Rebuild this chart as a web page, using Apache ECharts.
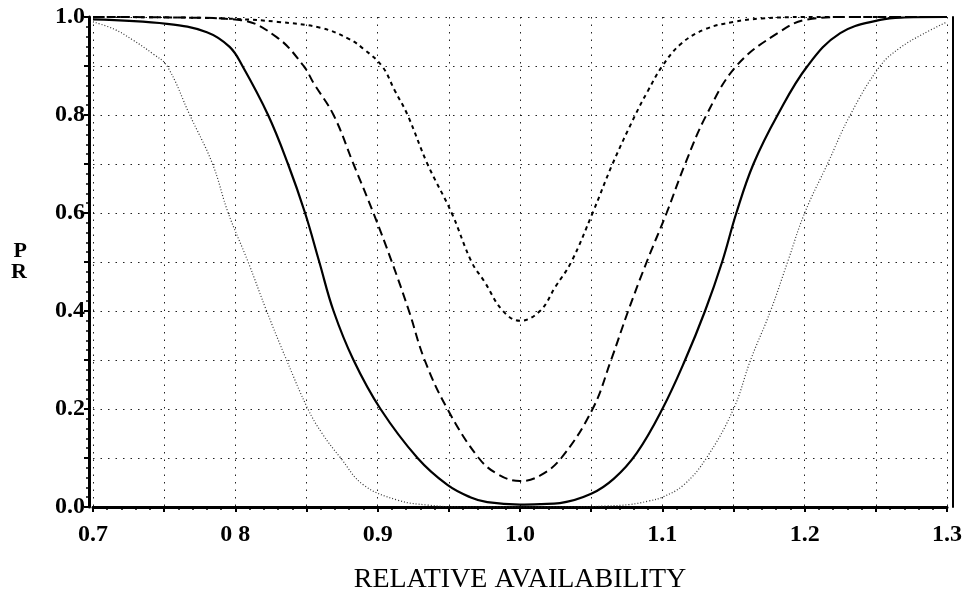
<!DOCTYPE html>
<html>
<head>
<meta charset="utf-8">
<script src="https://cdn.jsdelivr.net/npm/echarts@6/dist/echarts.min.js"></script>
<style>
    html, body { margin: 0; background: #fff; }
    #chart { width: 969px; height: 595px; }
</style>
</head>
<body>
<div id="chart"></div>
<script>
// 刻度标签
var xTickValues = [0.7, 0.8, 0.9, 1.0, 1.1, 1.2, 1.3];
var xTickLabels = ['0.7', '0 8', '0.9', '1.0', '1.1', '1.2', '1.3'];
var yTickValues = [0, 0.2, 0.4, 0.6, 0.8, 1.0];
var yTickLabels = ['0.0', '0.2', '0.4', '0.6', '0.8', '1.0'];

// 四条曲线 [相对可用度, PR]
var dottedCurve = [
    [0.70, 0.99], [0.715, 0.975], [0.728, 0.953], [0.742, 0.925], [0.752, 0.9], [0.768, 0.8],
    [0.784, 0.7], [0.795, 0.6], [0.809, 0.5], [0.822, 0.4], [0.836, 0.3], [0.851, 0.2],
    [0.861, 0.15], [0.874, 0.1], [0.89, 0.045], [0.914, 0.014], [0.935, 0.004], [0.96, 0.0],
    [1.04, 0.0], [1.06, 0.002], [1.077, 0.005], [1.09, 0.012], [1.10, 0.02], [1.115, 0.045],
    [1.131, 0.1], [1.15, 0.2], [1.162, 0.3], [1.176, 0.4], [1.188, 0.5], [1.20, 0.6],
    [1.216, 0.7], [1.232, 0.8], [1.253, 0.9], [1.267, 0.937], [1.283, 0.965], [1.30, 0.99]
];
var solidCurve = [
    [0.70, 0.995], [0.752, 0.986], [0.78, 0.969], [0.796, 0.939], [0.805, 0.9], [0.823, 0.8],
    [0.837, 0.7], [0.849, 0.6], [0.859, 0.5], [0.869, 0.4], [0.883, 0.3], [0.902, 0.2],
    [0.928, 0.1], [0.949, 0.045], [0.965, 0.02], [0.977, 0.01], [1.0, 0.005], [1.015, 0.006],
    [1.028, 0.008], [1.05, 0.027], [1.066, 0.058], [1.082, 0.11], [1.10, 0.2], [1.116, 0.3],
    [1.13, 0.4], [1.142, 0.5], [1.152, 0.6], [1.164, 0.7], [1.181, 0.8], [1.202, 0.9],
    [1.225, 0.967], [1.253, 0.994], [1.27, 0.999], [1.30, 1.0]
];
var longDashCurve = [
    [0.70, 1.0], [0.76, 0.999], [0.803, 0.994], [0.829, 0.959], [0.848, 0.9], [0.855, 0.865],
    [0.869, 0.8], [0.883, 0.7], [0.897, 0.6], [0.910, 0.5], [0.922, 0.4], [0.933, 0.3],
    [0.949, 0.2], [0.971, 0.1], [0.985, 0.066], [1.0, 0.053], [1.014, 0.064], [1.029, 0.1],
    [1.051, 0.2], [1.064, 0.3], [1.076, 0.4], [1.089, 0.5], [1.103, 0.6], [1.116, 0.7],
    [1.131, 0.8], [1.152, 0.9], [1.181, 0.967], [1.202, 0.995], [1.23, 1.0], [1.30, 1.0]
];
var shortDashCurve = [
    [0.70, 1.0], [0.76, 0.999], [0.80, 0.996], [0.83, 0.99], [0.86, 0.978], [0.88, 0.955],
    [0.89, 0.935], [0.903, 0.9], [0.912, 0.85], [0.921, 0.8], [0.935, 0.7], [0.952, 0.6],
    [0.966, 0.5], [0.975, 0.46], [0.988, 0.4], [1.0, 0.38], [1.014, 0.4], [1.025, 0.45],
    [1.036, 0.5], [1.051, 0.6], [1.065, 0.7], [1.081, 0.8], [1.09, 0.85], [1.10, 0.9],
    [1.113, 0.945], [1.13, 0.975], [1.15, 0.99], [1.17, 0.997], [1.20, 1.0], [1.30, 1.0]
];

(function () {
    var myChart = echarts.init(document.getElementById('chart'));

    function pick(values, labels, v) {
        for (var i = 0; i < values.length; i++) {
            if (Math.abs(values[i] - v) < 1e-6) return labels[i];
        }
        return '';
    }

    var labelFont = {
        color: '#000',
        fontFamily: 'Liberation Serif',
        fontWeight: 'bold',
        fontSize: 24
    };
    // 点状网格线
    var gridLine = {
        show: true,
        lineStyle: { color: '#222', width: 1, type: [1.5, 6] }
    };
    // 曲线通用设置
    function curve(name, data, lineStyle) {
        return {
            name: name,
            type: 'line',
            data: data,
            smooth: 0.4,
            showSymbol: false,
            lineStyle: lineStyle
        };
    }

    var option = {
        animation: false,
        backgroundColor: '#fff',
        grid: { left: 93, right: 22, top: 17, bottom: 88, outerBoundsMode: 'none' },
        xAxis: [
            {
                type: 'value',
                min: 0.7,
                max: 1.3,
                interval: 0.05,
                offset: 4,
                name: 'RELATIVE AVAILABILITY',
                nameLocation: 'middle',
                nameGap: 55,
                nameTextStyle: {
                    color: '#000',
                    fontFamily: 'Liberation Serif',
                    fontSize: 28
                },
                axisLine: { lineStyle: { color: '#000', width: 3 } },
                axisTick: { show: true, inside: false, length: 5, lineStyle: { color: '#000', width: 2 } },
                minorTick: { show: true, splitNumber: 5, length: 3, lineStyle: { color: '#000', width: 1.5 } },
                axisLabel: Object.assign({
                    margin: 12,
                    formatter: function (v) { return pick(xTickValues, xTickLabels, v); }
                }, labelFont),
                splitLine: gridLine
            },
            {
                // 上边框
                type: 'value',
                position: 'top',
                min: 0.7,
                max: 1.3,
                offset: 3,
                axisLine: { show: true, lineStyle: { color: '#000', width: 2 } },
                axisTick: { show: false },
                axisLabel: { show: false },
                splitLine: { show: false }
            }
        ],
        yAxis: [
            {
                type: 'value',
                min: 0,
                max: 1,
                interval: 0.1,
                offset: 4,
                name: 'P\nR',
                nameLocation: 'middle',
                nameRotate: 0,
                nameGap: 62,
                nameTextStyle: {
                    color: '#000',
                    fontFamily: 'Liberation Serif',
                    fontWeight: 'bold',
                    fontSize: 22,
                    lineHeight: 21,
                    padding: [0, 0, 22, 0]
                },
                axisLine: { show: true, lineStyle: { color: '#000', width: 3 } },
                axisTick: { show: true, inside: false, length: 5, lineStyle: { color: '#000', width: 2 } },
                minorTick: { show: true, splitNumber: 5, length: 3, lineStyle: { color: '#000', width: 1.5 } },
                axisLabel: Object.assign({
                    margin: 4,
                    formatter: function (v) { return pick(yTickValues, yTickLabels, v); }
                }, labelFont),
                splitLine: gridLine
            },
            {
                // 右边框
                type: 'value',
                position: 'right',
                min: 0,
                max: 1,
                offset: 6,
                axisLine: { show: true, lineStyle: { color: '#000', width: 2 } },
                axisTick: { show: false },
                axisLabel: { show: false },
                splitLine: { show: false }
            }
        ],
        series: [
            curve('dotted', dottedCurve, { color: '#333', width: 1.2, type: [1, 2] }),
            curve('solid', solidCurve, { color: '#000', width: 2.2 }),
            curve('longDash', longDashCurve, { color: '#000', width: 2, type: [9, 5] }),
            curve('shortDash', shortDashCurve, { color: '#000', width: 2, type: [4, 4] })
        ]
    };

    myChart.setOption(option);
})();
</script>
</body>
</html>
